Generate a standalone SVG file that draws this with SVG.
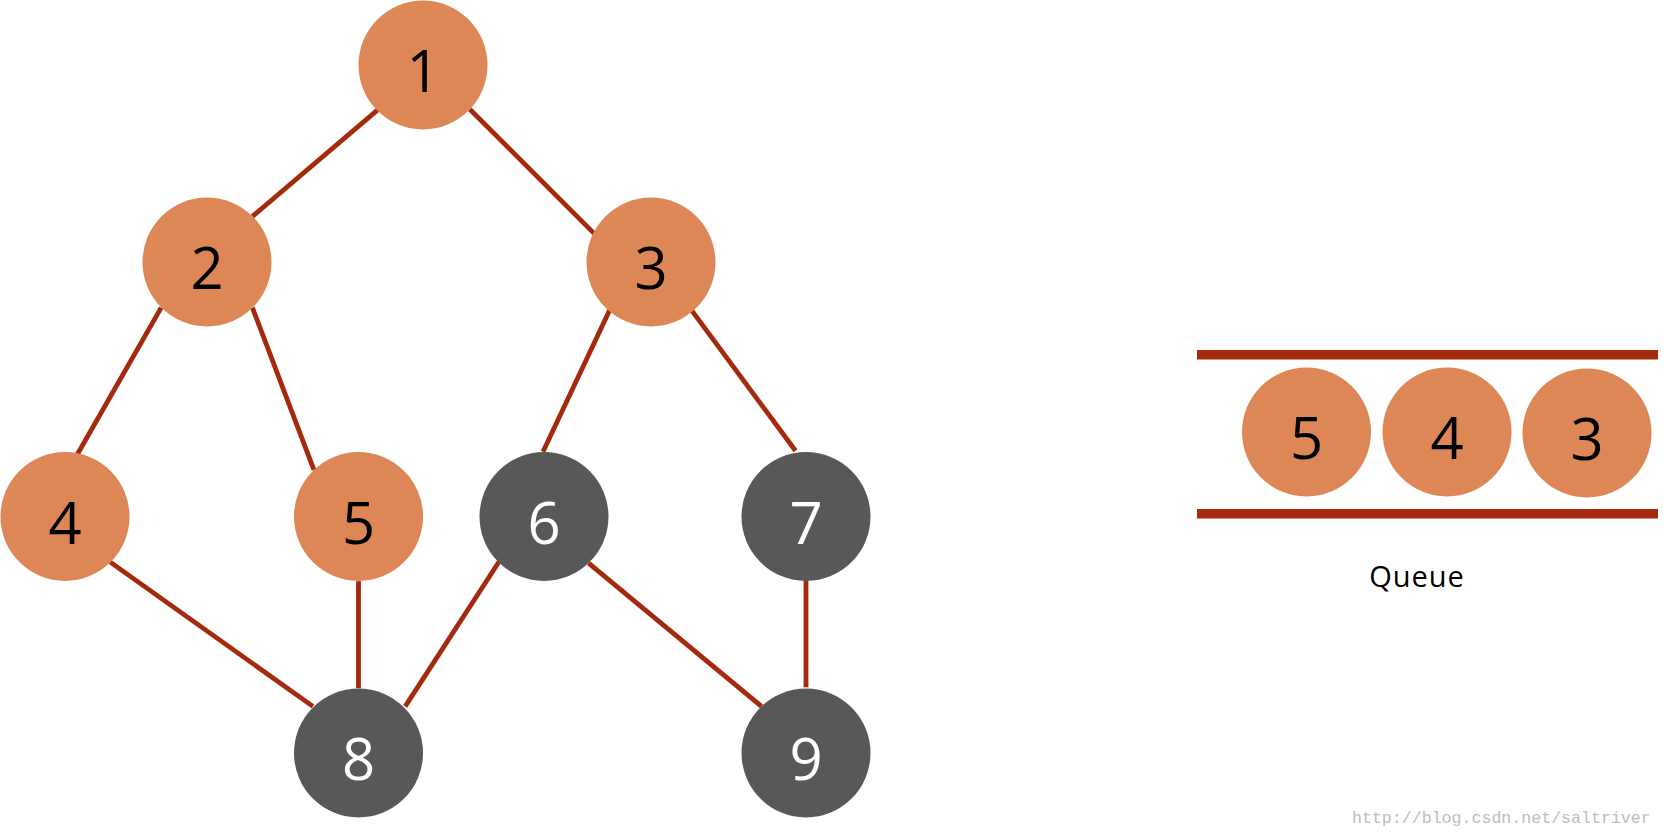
<svg xmlns="http://www.w3.org/2000/svg" width="1663" height="837" viewBox="0 0 1663 837">
<style>
.o{fill:#DD8757}
.d{fill:#585858}
.e{stroke:#A52A0D;stroke-width:4.8;fill:none}
.t{font-family:"Open Sans","Noto Sans",sans-serif;font-size:58px;text-anchor:middle}
.tb{fill:#000}
.tw{fill:#fff}
.bar{fill:#A52A0D}
</style>
<rect width="1663" height="837" fill="#fff"/>
<g id="edges">
<line class="e" x1="378.6" y1="109.2" x2="252.4" y2="216.4"/>
<line class="e" x1="469.8" y1="109.2" x2="595" y2="234.4"/>
<line class="e" x1="161.2" y1="307.6" x2="76.4" y2="456"/>
<line class="e" x1="252.4" y1="307.6" x2="313.9" y2="469.8"/>
<line class="e" x1="610.9" y1="307.6" x2="543" y2="451.8"/>
<line class="e" x1="690.4" y1="308.6" x2="795.5" y2="450.8"/>
<line class="e" x1="110.3" y1="562.1" x2="312.9" y2="706.4"/>
<line class="e" x1="358.5" y1="581.2" x2="358.5" y2="688.3"/>
<line class="e" x1="499.5" y1="561" x2="405.2" y2="706.4"/>
<line class="e" x1="588.6" y1="563.2" x2="761.5" y2="706.4"/>
<line class="e" x1="806" y1="580.2" x2="806" y2="687.3"/>
</g>
<g id="n1"><circle class="o" cx="423" cy="65" r="64.5"/><text class="t tb" x="423" y="92">1</text></g>
<g id="n2"><circle class="o" cx="207" cy="262" r="64.5"/><text class="t tb" x="207" y="289">2</text></g>
<g id="n3"><circle class="o" cx="651" cy="262" r="64.5"/><text class="t tb" x="651" y="289">3</text></g>
<g id="n4"><circle class="o" cx="65" cy="516.5" r="64.5"/><text class="t tb" x="65" y="543.5">4</text></g>
<g id="n5"><circle class="o" cx="358.5" cy="516.5" r="64.5"/><text class="t tb" x="358.5" y="543.5">5</text></g>
<g id="n6"><circle class="d" cx="544" cy="516.5" r="64.5"/><text class="t tw" x="544" y="543.5">6</text></g>
<g id="n7"><circle class="d" cx="806" cy="516.5" r="64.5"/><text class="t tw" x="806" y="543.5">7</text></g>
<g id="n8"><circle class="d" cx="358.5" cy="753" r="64.5"/><text class="t tw" x="358.5" y="780">8</text></g>
<g id="n9"><circle class="d" cx="806" cy="753" r="64.5"/><text class="t tw" x="806" y="780">9</text></g>
<g id="queue">
<rect class="bar" x="1197" y="350" width="461" height="9.5"/>
<rect class="bar" x="1197" y="509" width="461" height="9.5"/>
<g id="q5"><circle class="o" cx="1306.5" cy="432" r="64.5"/><text class="t tb" x="1306.5" y="459">5</text></g>
<g id="q4"><circle class="o" cx="1447" cy="432" r="64.5"/><text class="t tb" x="1447" y="459">4</text></g>
<g id="q3"><circle class="o" cx="1587" cy="433" r="64.5"/><text class="t tb" x="1587" y="460">3</text></g>
<text x="1417" y="587" font-family="Open Sans, Noto Sans, sans-serif" font-size="29" text-anchor="middle" letter-spacing="1" fill="#000">Queue</text>
</g>
<text x="1352" y="823" font-family="Liberation Mono, monospace" font-size="16.6" fill="#BDBDBD">http://blog.csdn.net/saltriver</text>
</svg>
